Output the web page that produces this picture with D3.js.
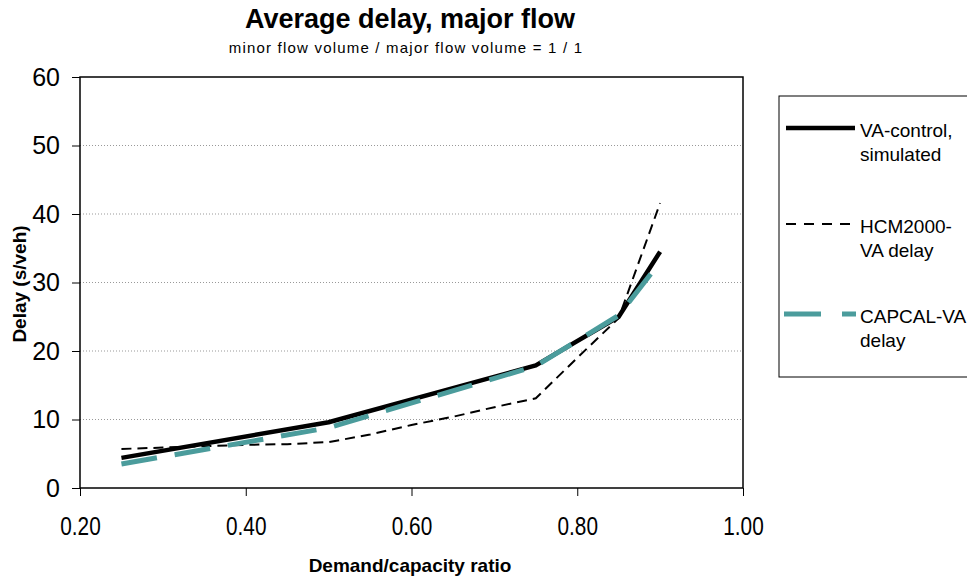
<!DOCTYPE html>
<html><head><meta charset="utf-8">
<script src="https://cdn.jsdelivr.net/npm/d3@7"></script>
<style>body{margin:0;background:#fff}svg{display:block}text{font-family:"Liberation Sans",Arial,sans-serif}</style>
</head><body>
<svg id="c" width="967" height="577"></svg>
<script>
const xTicks = [0.2, 0.4, 0.6, 0.8, 1.0];
const yTicks = [0, 10, 20, 30, 40, 50, 60];
const vaX = [0.25, 0.5, 0.75, 0.85, 0.9];
const vaY = [4.4, 9.6, 17.9, 25.0, 34.5];
const hcmX = [0.25, 0.3, 0.4, 0.45, 0.5, 0.55, 0.6, 0.65, 0.7, 0.75, 0.8, 0.85, 0.9];
const hcmY = [5.7, 5.9, 6.3, 6.4, 6.7, 7.8, 9.2, 10.4, 11.8, 13.1, 19.0, 24.8, 41.6];
const capX = [0.25, 0.5, 0.75, 0.85, 0.9];
const capY = [3.5, 8.8, 17.8, 25.2, 33.0];
const seriesNames = [["VA-control,", "simulated"], ["HCM2000-", "VA delay"], ["CAPCAL-VA", "delay"]];

const svg = d3.select("#c");
const L = 80, R = 743, T = 77, B = 488;
const x = d3.scaleLinear().domain([0.2, 1.0]).range([L, R]);
const y = d3.scaleLinear().domain([0, 60]).range([B, T]);

// grid
svg.append("g").selectAll("line").data(yTicks.filter(v => v > 0 && v < 60)).join("line")
  .attr("x1", L).attr("x2", R).attr("y1", d => y(d)).attr("y2", d => y(d))
  .attr("stroke", "#999").attr("stroke-width", 1).attr("stroke-dasharray", "1,2");

// plot border
svg.append("rect").attr("x", L).attr("y", T).attr("width", R - L).attr("height", B - T)
  .attr("fill", "none").attr("stroke", "#000").attr("stroke-width", 1.5);

// axes
const yAxis = d3.axisLeft(y).tickValues(yTicks).tickSize(8).tickPadding(12).tickFormat(d3.format("d"));
const gy = svg.append("g").attr("transform", `translate(${L},0)`).call(yAxis);
gy.select(".domain").remove();
gy.selectAll("text").attr("font-size", 25).attr("fill", "#000");
const xAxis = d3.axisBottom(x).tickValues(xTicks).tickSize(8).tickPadding(21).tickFormat(d3.format(".2f"));
const gx = svg.append("g").attr("transform", `translate(0,${B})`).call(xAxis);
gx.select(".domain").remove();
gx.selectAll("text").attr("font-size", 26).attr("fill", "#000").attr("transform", "scale(0.8,1)");

const line = d3.line().x(d => x(d[0])).y(d => y(d[1]));
const zip = (a, b) => a.map((v, i) => [v, b[i]]);

svg.append("path").datum(zip(vaX, vaY)).attr("d", line).attr("fill", "none")
  .attr("stroke", "#000").attr("stroke-width", 4.5).attr("stroke-linejoin", "round");
svg.append("path").datum(zip(hcmX, hcmY)).attr("d", line).attr("fill", "none")
  .attr("stroke", "#000").attr("stroke-width", 2).attr("stroke-dasharray", "10,6");
svg.append("path").datum(zip(capX, capY)).attr("d", line).attr("fill", "none")
  .attr("stroke", "#4B9C9C").attr("stroke-width", 5).attr("stroke-dasharray", "36,18");

// titles
svg.append("text").attr("x", 410).attr("y", 28).attr("text-anchor", "middle")
  .attr("font-size", 27).attr("font-weight", "bold").text("Average delay, major flow");
svg.append("text").attr("x", 406).attr("y", 53).attr("text-anchor", "middle")
  .attr("font-size", 15).attr("letter-spacing", 1.2).text("minor flow  volume / major flow  volume = 1 / 1");
svg.append("text").attr("x", 410).attr("y", 572).attr("text-anchor", "middle")
  .attr("font-size", 19).attr("font-weight", "bold").text("Demand/capacity ratio");
svg.append("text").attr("transform", "translate(26,284) rotate(-90)").attr("text-anchor", "middle")
  .attr("font-size", 19).attr("font-weight", "bold").text("Delay (s/veh)");

// legend
svg.append("rect").attr("x", 779).attr("y", 96).attr("width", 200).attr("height", 281)
  .attr("fill", "#fff").attr("stroke", "#000").attr("stroke-width", 1);
const legY = [128, 224, 314];
const lg = svg.append("g");
lg.append("line").attr("x1", 786).attr("x2", 855).attr("y1", legY[0]).attr("y2", legY[0])
  .attr("stroke", "#000").attr("stroke-width", 4.5);
lg.append("line").attr("x1", 786).attr("x2", 855).attr("y1", legY[1]).attr("y2", legY[1])
  .attr("stroke", "#000").attr("stroke-width", 2).attr("stroke-dasharray", "10,8");
lg.append("line").attr("x1", 784).attr("x2", 856).attr("y1", legY[2]).attr("y2", legY[2])
  .attr("stroke", "#4B9C9C").attr("stroke-width", 5).attr("stroke-dasharray", "37,21");
seriesNames.forEach((nm, i) => {
  const t = lg.append("text").attr("x", 860).attr("y", legY[i] + 9).attr("font-size", 19).attr("fill", "#000");
  nm.forEach((s, j) => t.append("tspan").attr("x", 860).attr("dy", j === 0 ? 0 : 24).text(s));
});
</script>
</body></html>
